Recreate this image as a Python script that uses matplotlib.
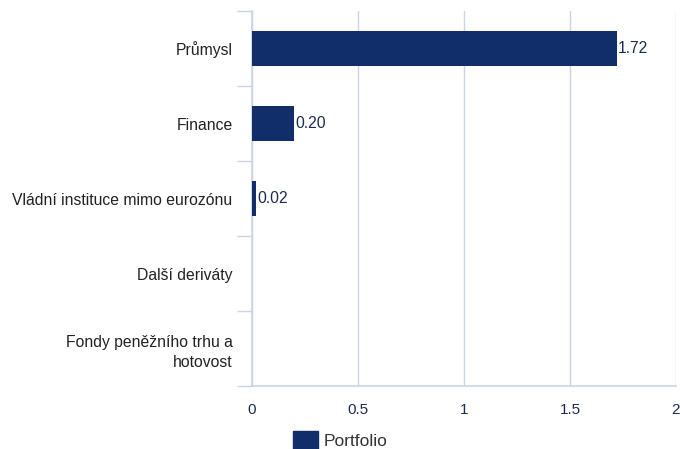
import matplotlib.pyplot as plt
import numpy as np

plt.rcParams['font.family'] = ['Liberation Sans', 'DejaVu Sans']

categories = ['Průmysl', 'Finance', 'Vládní instituce mimo eurozónu',
              'Další deriváty', 'Fondy peněžního trhu a\nhotovost']
values = [1.72, 0.20, 0.02, 0.0, 0.0]
labels = ['1.72', '0.20', '0.02', '', '']
xticks = [0, 0.5, 1, 1.5, 2]
xticklabels = ['0', '0.5', '1', '1.5', '2']

bar_color = '#112d6a'
grid_color = '#c9d5e5'
text_color = '#1b2a4e'

fig = plt.figure(figsize=(6.8, 4.49), dpi=100)
ax = fig.add_axes([0.3706, 0.1403, 0.6235, 0.8352])

y = np.arange(len(categories))
ax.barh(y, values, height=0.46, color=bar_color, zorder=3)
for yi, v, lab in zip(y, values, labels):
    if lab:
        ax.text(v + 0.004, yi, lab, va='center', ha='left', fontsize=11.3,
                color=text_color, zorder=4)

ax.set_ylim(len(categories) - 0.5, -0.5)
ax.set_xlim(0, 2.0)
ax.set_yticks(y)
ax.set_yticklabels(categories, fontsize=11.3, color='#222222',
                   multialignment='right', linespacing=1.45)
ax.set_yticks(np.arange(-0.5, len(categories), 1), minor=True)
ax.tick_params(axis='y', which='major', length=0, pad=14)
ax.tick_params(axis='y', which='minor', length=10.5, width=1, color=grid_color)
ax.set_xticks(xticks)
ax.set_xticklabels(xticklabels, fontsize=11, color=text_color)
ax.tick_params(axis='x', length=0, pad=12)

ax.grid(axis='x', color=grid_color, linewidth=1, zorder=0)
for s in ['top', 'right']:
    ax.spines[s].set_visible(False)
for s in ['left', 'bottom']:
    ax.spines[s].set_color(grid_color)
    ax.spines[s].set_linewidth(1.2)

handle = plt.Rectangle((0, 0), 1, 1, color=bar_color)
fig.legend([handle], ['Portfolio'], loc='lower left', bbox_to_anchor=(0.408, -0.036),
           frameon=False, fontsize=12.5, handlelength=1.45, handleheight=1.25,
           handletextpad=0.3, labelcolor='#333333')

fig.savefig('out.png', dpi=100)
